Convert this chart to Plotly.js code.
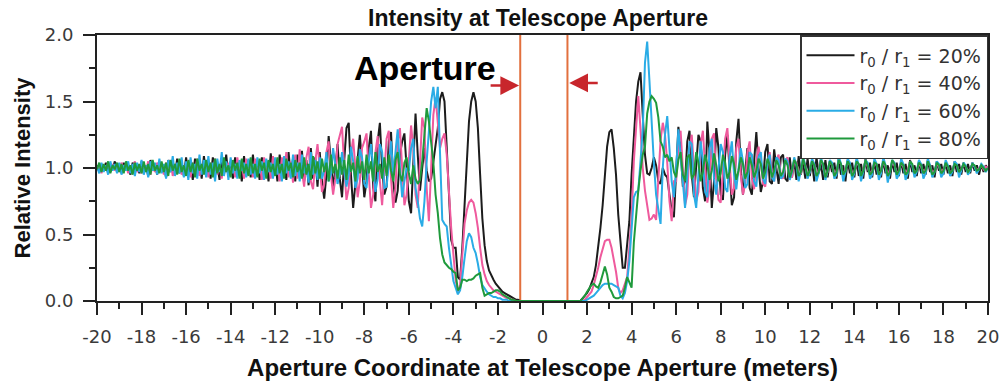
<!DOCTYPE html>
<html><head><meta charset="utf-8">
<script src="https://cdn.plot.ly/plotly-3.0.1.min.js"></script>
<style>html,body{margin:0;padding:0;background:#fff;}#chart{width:1000px;height:388px;}</style>
</head><body><div id="chart"></div>
<script>
// Sampling of the aperture coordinate (meters)
const X_START = -20;
const X_STEP = 0.1;

const seriesNames = [
  'r<sub>0</sub> / r<sub>1</sub> = 20%',
  'r<sub>0</sub> / r<sub>1</sub> = 40%',
  'r<sub>0</sub> / r<sub>1</sub> = 60%',
  'r<sub>0</sub> / r<sub>1</sub> = 80%'
];

// r0/r1 = 20%
const ratio20 = [
1.02,0.97,1.03,0.98,1.04,0.96,1.02,0.99,1.05,0.97,
1.03,0.96,1.04,0.98,1.02,0.95,1.04,0.99,1.03,0.96,
1.05,0.97,1.02,0.94,1.06,0.98,1.03,0.95,1.04,0.97,
1.02,0.93,1.06,0.97,1.04,0.95,1.07,0.96,1.03,0.94,
1.08,0.95,1.03,0.91,1.07,0.97,1.05,0.92,1.09,0.96,
1.04,0.92,1.08,0.97,1.03,0.91,1.06,0.95,1.10,0.94,
1.05,0.92,1.08,0.96,1.03,0.90,1.09,0.95,1.06,0.93,
1.10,0.94,1.04,0.91,1.08,0.97,1.05,0.90,1.11,0.95,
1.06,0.90,1.10,0.96,1.04,0.91,1.12,0.94,1.07,0.90,
1.10,0.93,1.13,0.90,1.06,0.87,1.15,0.92,1.08,0.86,
1.12,0.90,0.77,0.95,1.24,1.05,0.85,1.00,1.18,0.92,
0.78,1.06,1.30,1.34,0.95,0.70,0.88,1.12,1.25,1.02,
0.78,0.90,1.15,1.28,0.85,0.75,1.20,1.34,1.00,0.80,
0.86,1.20,1.27,0.90,0.74,0.83,1.10,1.20,1.26,1.00,
0.75,0.66,1.00,1.41,1.10,0.83,1.00,1.15,0.98,0.90,
0.92,1.05,1.16,1.30,1.52,1.57,1.50,1.16,0.75,0.46,
0.40,0.40,0.18,0.16,0.40,0.72,1.10,1.35,1.50,1.57,
1.50,1.30,0.95,0.62,0.42,0.30,0.23,0.19,0.16,0.13,
0.11,0.09,0.07,0.06,0.05,0.04,0.03,0.02,0.01,0.01,
0,0,0,0,0,0,0,0,0,0,
0,0,0,0,0,0,0,0,0,0,
0,0,0,0,0,0,0,0,0.02,0.04,
0.06,0.09,0.13,0.18,0.27,0.40,0.55,0.72,0.95,1.16,
1.27,1.29,1.15,0.95,0.65,0.41,0.25,0.25,0.45,0.60,
0.95,1.20,1.50,1.65,1.72,1.40,1.10,0.96,0.95,1.00,
1.08,1.02,0.90,0.88,1.00,0.95,0.93,0.80,0.68,0.63,
0.95,1.31,1.15,0.86,0.90,1.20,1.28,0.95,0.78,1.05,
1.25,1.20,0.85,0.75,1.35,1.10,0.70,0.90,1.30,1.15,
0.80,0.76,1.10,1.25,0.95,0.72,0.78,1.20,1.37,1.00,
0.80,0.95,1.15,0.85,0.80,1.05,1.27,1.00,0.82,0.90,
1.12,1.18,0.90,0.88,1.14,1.00,0.88,1.08,1.10,0.92,
0.90,1.08,0.93,1.06,0.91,1.09,0.95,1.04,0.92,1.07,
0.94,1.05,0.90,1.08,0.96,1.03,0.91,1.06,0.93,1.05,
0.97,1.04,0.92,1.07,0.95,1.02,0.90,1.06,0.96,1.04,
0.93,1.06,0.94,1.03,0.92,1.07,0.97,1.04,0.93,1.05,
0.95,1.03,0.93,1.06,0.96,1.02,0.92,1.05,0.97,1.04,
0.94,1.05,0.96,1.03,0.92,1.06,0.97,1.02,0.94,1.05,
0.96,1.03,0.95,1.06,0.97,1.02,0.93,1.05,0.98,1.03,
0.95,1.04,0.96,1.02,0.94,1.05,0.97,1.03,0.95,1.04,
0.97,1.03,0.96,1.04,0.98,1.02,0.95,1.03,0.97,1.02,
0.99];

// r0/r1 = 40%
const ratio40 = [
0.98,1.03,0.96,1.02,0.99,1.04,0.97,1.03,0.98,1.02,
0.97,1.04,0.99,1.03,0.96,1.02,0.98,1.05,0.97,1.01,
0.96,1.03,0.98,1.05,0.95,1.02,0.97,1.04,0.99,1.03,
0.95,1.04,0.97,1.06,0.94,1.03,0.98,1.05,0.95,1.02,
0.97,1.06,0.93,1.04,0.98,1.07,0.94,1.03,0.96,1.05,
0.93,1.04,0.97,1.07,0.95,1.02,0.92,1.06,0.97,1.04,
0.94,1.05,0.93,1.08,0.96,1.03,0.92,1.07,0.95,1.04,
0.93,1.07,0.96,1.04,0.91,1.08,0.97,1.03,0.92,1.09,
0.95,1.04,0.90,1.08,0.96,1.12,0.93,1.05,0.89,1.10,
0.92,1.14,0.97,0.86,1.08,1.16,0.90,0.84,1.05,1.18,
1.00,0.82,0.88,1.12,1.20,0.95,0.80,0.92,1.18,1.25,
1.31,1.00,0.76,0.85,1.10,1.22,0.98,0.78,0.90,1.15,
1.20,1.26,0.95,0.70,0.80,1.12,1.24,0.90,0.72,0.95,
1.22,1.28,0.92,0.70,0.85,1.20,1.30,1.00,0.72,0.80,
1.10,1.32,1.15,0.80,0.70,1.05,1.38,1.30,0.85,0.60,
0.95,1.40,1.53,1.35,1.15,1.22,1.26,1.10,0.80,0.55,
0.35,0.16,0.07,0.12,0.35,0.58,0.68,0.74,0.76,0.74,
0.66,0.55,0.40,0.27,0.20,0.15,0.12,0.10,0.08,0.07,
0.06,0.05,0.04,0.03,0.02,0.02,0.01,0.01,0,0,
0,0,0,0,0,0,0,0,0,0,
0,0,0,0,0,0,0,0,0,0,
0,0,0,0,0,0,0,0,0,0.01,
0.03,0.05,0.07,0.12,0.18,0.25,0.33,0.40,0.45,0.46,
0.46,0.40,0.32,0.22,0.10,0.06,0.08,0.13,0.18,0.40,
0.63,1.05,1.29,1.54,1.29,1.00,0.83,0.70,0.61,0.62,
0.65,0.61,0.90,1.21,1.34,1.25,1.04,0.75,0.60,0.90,
0.90,1.16,1.28,1.00,0.72,0.80,1.15,1.25,0.95,0.75,
0.82,1.18,1.28,1.00,0.74,0.85,1.22,1.26,0.92,0.76,
0.74,0.98,1.22,1.30,1.05,0.80,0.85,1.15,1.22,0.95,
0.80,0.88,1.12,1.20,0.92,0.84,1.05,1.16,1.05,0.88,
0.86,1.02,1.12,0.98,0.90,1.06,1.10,0.94,0.92,1.05,
1.08,0.95,0.93,1.06,1.04,0.94,0.96,1.07,1.02,0.93,
0.97,1.06,1.03,0.92,0.98,1.07,1.01,0.93,0.97,1.05,
1.02,0.94,0.98,1.06,1.03,0.93,0.99,1.05,1.02,0.95,
0.97,1.04,1.02,0.94,0.98,1.06,1.01,0.95,0.98,1.04,
1.02,0.95,0.98,1.05,1.01,0.94,0.99,1.04,1.02,0.96,
0.98,1.04,1.01,0.95,0.99,1.05,1.02,0.96,0.98,1.03,
1.01,0.96,0.99,1.04,1.02,0.96,0.98,1.03,1.01,0.97,
0.99,1.03,1.01,0.96,0.98,1.04,1.02,0.97,0.99,1.03,
1.01,0.97,0.99,1.03,1.01,0.98,1.00,1.02,0.99,1.01,
1.00];

// r0/r1 = 60%
const ratio60 = [
1.01,0.96,1.04,0.97,1.02,0.95,1.05,0.98,1.03,0.96,
1.04,0.95,1.02,0.98,1.05,0.96,1.03,0.94,1.04,0.97,
1.06,0.95,1.02,0.93,1.05,0.98,1.04,0.95,1.07,0.96,
1.03,0.92,1.06,0.97,1.09,0.94,1.04,0.96,1.08,0.93,
1.05,0.91,1.08,0.96,1.03,0.92,1.10,0.95,1.06,0.93,
1.09,0.95,1.04,0.90,1.07,0.97,1.12,0.94,1.05,0.91,
1.08,0.96,1.03,0.92,1.06,0.98,1.04,0.93,1.07,0.95,
1.03,0.92,1.08,0.96,1.05,0.91,1.07,0.97,1.04,0.92,
1.08,0.95,1.03,0.90,1.09,0.96,1.05,0.92,1.10,0.94,
1.04,0.90,1.10,0.96,1.02,0.89,1.12,0.95,1.06,0.91,
1.08,0.92,0.98,1.12,0.90,0.95,1.15,1.02,0.88,0.97,
1.12,0.98,0.86,0.95,1.16,1.05,0.85,0.92,1.14,1.08,
0.88,0.85,1.05,1.18,1.00,0.82,0.92,1.18,1.12,0.85,
0.86,1.05,1.20,0.95,1.10,1.29,1.00,0.78,0.90,1.00,
0.98,1.15,1.22,0.85,0.75,0.62,0.56,0.75,1.05,1.30,
1.50,1.61,1.45,1.61,1.10,0.61,0.58,0.56,0.40,0.25,
0.15,0.10,0.05,0.08,0.18,0.32,0.45,0.51,0.48,0.40,
0.36,0.28,0.18,0.12,0.09,0.07,0.05,0.04,0.03,0.03,
0.02,0.02,0.01,0.01,0.01,0,0,0,0,0,
0,0,0,0,0,0,0,0,0,0,
0,0,0,0,0,0,0,0,0,0,
0,0,0,0,0,0,0,0,0,0,
0.01,0.02,0.03,0.04,0.06,0.08,0.10,0.12,0.13,0.13,
0.13,0.13,0.12,0.11,0.10,0.04,0.02,0.06,0.15,0.30,
0.55,0.78,0.82,0.83,1.05,1.29,1.79,1.95,1.66,1.30,
1.04,0.80,0.68,0.58,1.00,1.25,1.39,1.10,0.90,0.78,
0.99,1.29,1.10,0.85,0.70,0.95,1.20,1.18,0.80,0.70,
0.95,1.20,1.05,0.82,0.78,1.15,1.22,0.92,0.80,1.00,
1.18,1.12,0.85,0.82,1.08,1.20,0.95,0.84,1.00,1.15,
1.05,0.85,0.88,1.12,1.10,0.90,0.86,1.08,1.12,0.92,
0.88,1.05,1.10,0.93,0.90,1.08,1.06,0.92,0.94,1.07,
1.05,0.91,0.97,1.08,1.02,0.90,0.98,1.09,1.01,0.92,
0.97,1.07,1.03,0.90,0.96,1.08,1.02,0.91,0.98,1.06,
1.04,0.92,0.95,1.09,1.03,0.90,0.97,1.07,1.04,0.91,
0.96,1.08,1.02,0.90,0.97,1.06,1.04,0.92,0.95,1.07,
1.03,0.91,0.96,1.08,1.02,0.89,0.97,1.06,1.04,0.92,
0.95,1.07,1.03,0.91,0.96,1.05,1.02,0.93,0.97,1.06,
1.03,0.92,0.96,1.07,1.02,0.93,0.97,1.05,1.03,0.93,
0.96,1.06,1.02,0.94,0.97,1.05,1.03,0.93,0.98,1.04,
1.02,0.95,0.98,1.04,1.01,0.96,0.99,1.03,1.01,0.97,
1.00];

// r0/r1 = 80%
const ratio80 = [
0.99,1.04,0.97,1.03,0.98,1.05,0.96,1.02,0.99,1.04,
0.97,1.03,0.96,1.05,0.98,1.02,0.95,1.04,0.98,1.03,
0.96,1.05,0.97,1.03,0.95,1.06,0.98,1.02,0.96,1.05,
0.97,1.04,0.94,1.06,0.98,1.03,0.95,1.07,0.97,1.02,
0.94,1.06,0.97,1.04,0.93,1.07,0.98,1.03,0.95,1.06,
0.97,1.04,0.93,1.07,0.96,1.03,0.94,1.08,0.97,1.02,
0.93,1.06,0.98,1.04,0.92,1.07,0.96,1.03,0.94,1.08,
0.96,1.03,0.93,1.07,0.98,1.04,0.92,1.06,0.97,1.03,
0.94,1.08,0.96,1.03,0.92,1.07,0.98,1.04,0.93,1.06,
0.97,1.04,0.92,1.08,0.95,1.03,0.91,1.09,0.96,1.05,
0.92,1.07,0.97,1.04,0.90,1.10,0.96,1.03,0.92,1.08,
0.95,1.06,0.91,1.10,0.97,1.04,0.90,1.09,0.96,1.05,
0.91,1.10,0.96,1.05,0.90,1.12,0.97,1.03,0.92,1.08,
0.94,1.10,0.98,0.90,1.06,1.12,0.95,0.90,1.04,1.08,
0.96,0.88,1.02,0.92,0.88,0.91,1.05,1.25,1.45,1.35,
1.20,1.04,0.80,0.66,0.47,0.35,0.29,0.27,0.25,0.24,
0.22,0.21,0.08,0.10,0.16,0.16,0.15,0.16,0.16,0.17,
0.19,0.20,0.21,0.10,0.04,0.05,0.06,0.06,0.07,0.08,
0.08,0.07,0.05,0.04,0.03,0.02,0.01,0.01,0,0,
0,0,0,0,0,0,0,0,0,0,
0,0,0,0,0,0,0,0,0,0,
0,0,0,0,0,0,0,0,0.02,0.04,
0.07,0.10,0.12,0.13,0.11,0.10,0.14,0.20,0.26,0.20,
0.10,0.07,0.03,0.02,0.02,0.03,0.04,0.10,0.18,0.14,
0.10,0.44,0.65,0.83,0.98,1.10,1.16,1.41,1.50,1.54,
1.52,1.49,1.38,1.20,1.16,1.08,1.10,1.05,1.08,0.97,
0.93,1.06,1.12,0.95,0.90,1.08,1.10,0.92,0.95,1.12,
1.04,0.90,0.97,1.10,1.03,0.91,0.98,1.11,1.02,0.90,
0.96,1.10,1.04,0.92,0.97,1.09,1.03,0.91,0.98,1.08,
1.03,0.92,0.97,1.08,1.02,0.93,0.98,1.07,1.03,0.92,
0.97,1.07,1.02,0.93,0.98,1.06,1.02,0.94,0.97,1.06,
1.02,0.93,0.98,1.06,1.03,0.94,0.97,1.07,1.01,0.94,
0.98,1.05,1.02,0.94,0.97,1.06,1.03,0.93,0.98,1.05,
1.02,0.94,0.97,1.06,1.03,0.95,0.98,1.05,1.02,0.94,
0.97,1.05,1.03,0.94,0.98,1.06,1.02,0.95,0.97,1.04,
1.03,0.95,0.98,1.05,1.02,0.94,0.97,1.06,1.03,0.95,
0.98,1.04,1.02,0.95,0.97,1.05,1.03,0.96,0.98,1.04,
1.02,0.96,0.98,1.05,1.01,0.95,0.97,1.04,1.02,0.96,
0.98,1.04,1.01,0.96,0.98,1.03,1.02,0.97,0.99,1.03,
1.01,0.97,0.99,1.03,1.02,0.98,0.99,1.02,1.00,0.98,
1.00];

const seriesValues = [ratio20, ratio40, ratio60, ratio80];
const seriesColors = ['#1c1c1c', '#ef5a9d', '#2aace6', '#1f9a3c'];

const xTickVals = [-20,-18,-16,-14,-12,-10,-8,-6,-4,-2,0,2,4,6,8,10,12,14,16,18,20];
const xTickText = ['-20','-18','-16','-14','-12','-10','-8','-6','-4','-2','0','2','4','6','8','10','12','14','16','18','20'];
const yTickVals = [0, 0.5, 1.0, 1.5, 2.0];
const yTickText = ['0.0','0.5','1.0','1.5','2.0'];
const apertureEdges = [-1.0, 1.12];

const traces = seriesValues.map((vals, i) => ({
  type: 'scatter', mode: 'lines',
  x0: X_START, dx: X_STEP, y: vals,
  name: seriesNames[i],
  line: {color: seriesColors[i], width: 2},
  hoverinfo: 'skip'
}));

const axisCommon = {
  showline: true, linecolor: '#222', linewidth: 2, mirror: true,
  ticks: 'outside', ticklen: 12, tickwidth: 2, tickcolor: '#222',
  showgrid: false, zeroline: false,
  tickfont: {family: 'DejaVu Sans', size: 18, color: '#3a3a3a'}
};

const layout = {
  width: 1000, height: 388,
  margin: {l: 97, r: 12, t: 35, b: 87},
  paper_bgcolor: '#fff', plot_bgcolor: '#fff',
  showlegend: true,
  title: {
    text: 'Intensity at Telescope Aperture',
    font: {family: 'Liberation Sans', size: 23, weight: 'bold', color: '#111'},
    x: 0.495, xref: 'paper', xanchor: 'center',
    y: 0.955, yref: 'container', yanchor: 'middle'
  },
  xaxis: Object.assign({}, axisCommon, {
    range: [-20, 20], tickmode: 'array', tickvals: xTickVals, ticktext: xTickText,
    ticklabelstandoff: 6,
    minor: {dtick: 1, ticks: 'outside', ticklen: 6, tickwidth: 2, tickcolor: '#222'},
    title: {text: 'Aperture Coordinate at Telescope Aperture (meters)', standoff: 14,
            font: {family: 'Liberation Sans', size: 24, weight: 'bold', color: '#111'}}
  }),
  yaxis: Object.assign({}, axisCommon, {
    range: [0, 2], tickmode: 'array', tickvals: yTickVals, ticktext: yTickText,
    ticklabelstandoff: 6,
    minor: {dtick: 0.25, ticks: 'outside', ticklen: 6, tickwidth: 2, tickcolor: '#222'},
    title: {text: 'Relative Intensity', standoff: 8,
            font: {family: 'Liberation Sans', size: 22, weight: 'bold', color: '#111'}}
  }),
  legend: {
    x: 1, xanchor: 'right', y: 1, yanchor: 'top',
    bgcolor: '#fff', bordercolor: '#333', borderwidth: 1.5,
    font: {family: 'DejaVu Sans', size: 19, color: '#333'},
    itemwidth: 48, tracegroupgap: 0
  },
  shapes: apertureEdges.map(e => ({
    type: 'line', xref: 'x', yref: 'paper', x0: e, x1: e, y0: 0, y1: 1,
    line: {color: '#e2703e', width: 2}, layer: 'below'
  })),
  annotations: [
    {text: 'Aperture', xref: 'paper', yref: 'paper', x: 0.368, y: 0.875,
     xanchor: 'center', yanchor: 'middle', showarrow: false,
     font: {family: 'Liberation Sans', size: 34, weight: 'bold', color: '#000'}},
    {text: '', xref: 'x', yref: 'y', x: -1.05, y: 1.62, ax: -30, ay: 0,
     showarrow: true, arrowhead: 2, arrowsize: 1.5, arrowwidth: 2.5, arrowcolor: '#c8262c'},
    {text: '', xref: 'x', yref: 'y', x: 1.2, y: 1.64, ax: 30, ay: 0,
     showarrow: true, arrowhead: 2, arrowsize: 1.5, arrowwidth: 2.5, arrowcolor: '#c8262c'}
  ]
};

Plotly.newPlot('chart', traces, layout, {staticPlot: true, displayModeBar: false});
</script>
</body></html>
